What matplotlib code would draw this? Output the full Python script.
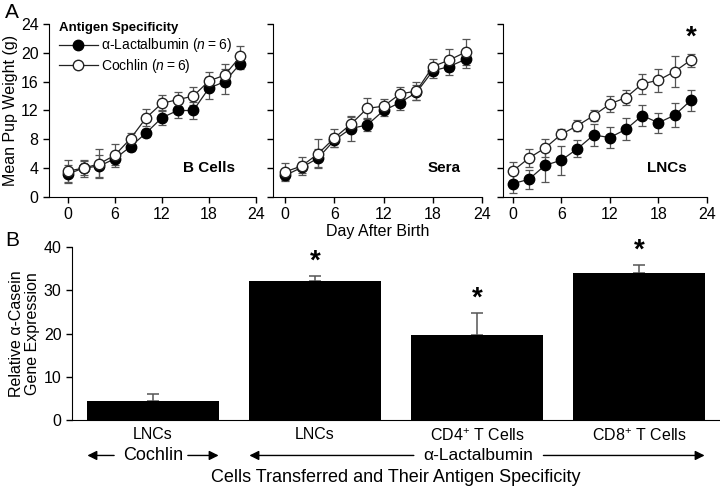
import numpy as np
import matplotlib
matplotlib.use("Agg")
import matplotlib.pyplot as plt

plt.rcParams['font.family'] = ['Liberation Sans', 'DejaVu Sans']
plt.rcParams['mathtext.fontset'] = 'custom'
plt.rcParams['mathtext.rm'] = 'Liberation Sans'
plt.rcParams['mathtext.it'] = 'Liberation Sans:italic'

# Panel A data: mean pup weight (g) by day after birth
days = [0, 2, 4, 6, 8, 10, 12, 14, 16, 18, 20, 22]

bcell_lac = [3.2, 4.0, 4.3, 5.3, 7.0, 8.9, 11.0, 12.0, 12.0, 15.1, 16.0, 18.5]
bcell_lac_err = [1.2, 1.0, 1.5, 0.8, 0.6, 0.6, 1.0, 1.0, 1.2, 1.5, 1.7, 0.7]
bcell_coch = [3.6, 4.0, 4.6, 5.8, 8.1, 11.0, 13.0, 13.5, 14.0, 16.1, 16.9, 19.5]
bcell_coch_err = [1.5, 1.2, 2.0, 1.6, 0.8, 1.2, 1.1, 1.1, 1.2, 1.3, 1.5, 1.5]

sera_lac = [3.0, 4.1, 5.4, 7.9, 9.5, 10.0, 12.0, 13.1, 14.5, 17.5, 18.1, 19.1]
sera_lac_err = [0.8, 0.8, 1.2, 0.9, 1.8, 0.8, 0.8, 1.0, 1.0, 1.0, 1.2, 1.2]
sera_coch = [3.5, 4.3, 6.0, 8.2, 10.1, 12.3, 12.6, 14.3, 14.7, 18.1, 19.0, 20.1]
sera_coch_err = [1.2, 1.2, 2.0, 1.2, 1.0, 1.4, 1.0, 1.0, 1.2, 1.0, 1.5, 1.8]

lnc_lac = [1.85, 2.45, 4.4, 5.1, 6.7, 8.6, 8.25, 9.4, 11.3, 10.3, 11.35, 13.4]
lnc_lac_err = [1.3, 1.3, 2.3, 2.0, 1.2, 1.5, 1.4, 1.5, 1.5, 1.4, 1.7, 1.5]
lnc_coch = [3.6, 5.4, 6.8, 8.7, 9.9, 11.3, 12.9, 13.8, 15.7, 16.2, 17.4, 19.0]
lnc_coch_err = [1.3, 1.3, 1.2, 0.7, 0.8, 0.8, 1.1, 1.1, 1.4, 1.6, 2.1, 0.9]

# Panel B data
bar_labels = ['LNCs', 'LNCs', 'CD4$^{+}$ T Cells', 'CD8$^{+}$ T Cells']
bar_values = [4.3, 32.2, 19.6, 34.0]
bar_err = [1.7, 1.1, 5.1, 1.8]
bar_star = [False, True, True, True]

fig = plt.figure(figsize=(7.2, 4.9), dpi=100)

panels = [
    ([49, 256], (-2.4, 24), bcell_lac, bcell_lac_err, bcell_coch, bcell_coch_err, 'B Cells'),
    ([273, 482], (-1.5, 24), sera_lac, sera_lac_err, sera_coch, sera_coch_err, 'Sera'),
    ([503, 707], (-1.2, 24), lnc_lac, lnc_lac_err, lnc_coch, lnc_coch_err, 'LNCs'),
]

axes = []
for i, (px, xl, lac, lac_e, coch, coch_e, name) in enumerate(panels):
    ax = fig.add_axes([px[0] / 720, 1 - 197 / 490, (px[1] - px[0]) / 720, 173 / 490])
    axes.append(ax)
    ax.errorbar(days, lac, yerr=lac_e, fmt='none', ecolor='#555555', elinewidth=0.9, capsize=3, capthick=0.9)
    ax.errorbar(days, coch, yerr=coch_e, fmt='none', ecolor='#555555', elinewidth=0.9, capsize=3, capthick=0.9)
    ax.plot(days, lac, '-o', color='#222222', lw=0.9, ms=7.5, mfc='black', mec='black',
            label='α-Lactalbumin ($n$\u2009=\u20096)', zorder=4)
    ax.plot(days, coch, '-o', color='#222222', lw=0.9, ms=7.5, mfc='white', mec='#222222',
            label='Cochlin ($n$\u2009=\u20096)', zorder=5)
    ax.set_xlim(*xl)
    ax.set_ylim(0, 24)
    ax.set_xticks([0, 6, 12, 18, 24])
    ax.set_yticks([0, 4, 8, 12, 16, 20, 24])
    ax.spines['top'].set_visible(False)
    ax.spines['right'].set_visible(False)
    ax.tick_params(direction='out', length=4, width=1, labelsize=11.5)
    ax.text(0.9, 0.17, name, transform=ax.transAxes, ha='right', va='center',
            fontsize=11, fontweight='bold')
    if i > 0:
        ax.set_yticklabels([])

axes[0].set_ylabel('Mean Pup Weight (g)', fontsize=11.5, labelpad=2)
leg = axes[0].legend(loc='upper left', bbox_to_anchor=(0.0, 1.07), frameon=False,
                     title='Antigen Specificity', alignment='left', fontsize=10,
                     handlelength=2.8, handletextpad=0.25, borderpad=0.2, labelspacing=0.2)
leg.get_title().set_fontweight('bold')
leg.get_title().set_fontsize(9.5)
axes[1].set_xlabel('Day After Birth', fontsize=11.5, labelpad=1)
axes[2].text(22, lnc_coch[-1] + lnc_coch_err[-1] + 0.4, '*', ha='center', va='bottom',
             fontsize=20, fontweight='bold')

# Panel B
axb = fig.add_axes([72 / 720, 1 - 420 / 490, 648 / 720, 173 / 490])
xpos = np.arange(len(bar_values))
axb.bar(xpos, bar_values, width=0.81, color='black', zorder=3)
axb.errorbar(xpos, bar_values, yerr=[np.zeros(len(bar_err)), bar_err], fmt='none',
             ecolor='#555555', elinewidth=1.1, capsize=4, capthick=1.1, zorder=2)
for x, v, e, s in zip(xpos, bar_values, bar_err, bar_star):
    if s:
        axb.text(x, v + e + 0.3, '*', ha='center', va='bottom', fontsize=20, fontweight='bold')
axb.set_xlim(-0.5, 3.5)
axb.set_ylim(0, 40)
axb.set_yticks([0, 10, 20, 30, 40])
axb.set_xticks(xpos)
axb.set_xticklabels(bar_labels, fontsize=11.5)
axb.tick_params(axis='x', length=0, pad=5)
axb.tick_params(axis='y', direction='out', length=4, width=1, labelsize=11.5)
axb.spines['top'].set_visible(False)
axb.spines['right'].set_visible(False)
axb.set_ylabel('Relative α-Casein\nGene Expression', fontsize=11.5, linespacing=1.05, labelpad=3)

# Antigen arrows below categories
trans = axb.get_xaxis_transform()
arrow = dict(arrowstyle='-|>', color='black', lw=1.0, mutation_scale=14, shrinkA=0, shrinkB=0)
yarr = -0.205
axb.annotate('', xy=(-0.405, yarr), xytext=(-0.24, yarr), xycoords=trans, textcoords=trans, arrowprops=arrow)
axb.annotate('', xy=(0.405, yarr), xytext=(0.215, yarr), xycoords=trans, textcoords=trans, arrowprops=arrow)
axb.text(0, yarr, 'Cochlin', transform=trans, ha='center', va='center', fontsize=13)
axb.annotate('', xy=(0.595, yarr), xytext=(1.61, yarr), xycoords=trans, textcoords=trans, arrowprops=arrow)
axb.annotate('', xy=(3.405, yarr), xytext=(2.41, yarr), xycoords=trans, textcoords=trans, arrowprops=arrow)
axb.text(2.01, yarr, 'α-Lactalbumin', transform=trans, ha='center', va='center', fontsize=12.5)
axb.text(1.5, -0.335, 'Cells Transferred and Their Antigen Specificity', transform=trans,
         ha='center', va='center', fontsize=13)

fig.text(5 / 720, 1 - 12 / 490, 'A', fontsize=15, va='center', ha='left')
fig.text(5 / 720, 1 - 240 / 490, 'B', fontsize=15, va='center', ha='left')

fig.savefig('out.png', dpi=100)
